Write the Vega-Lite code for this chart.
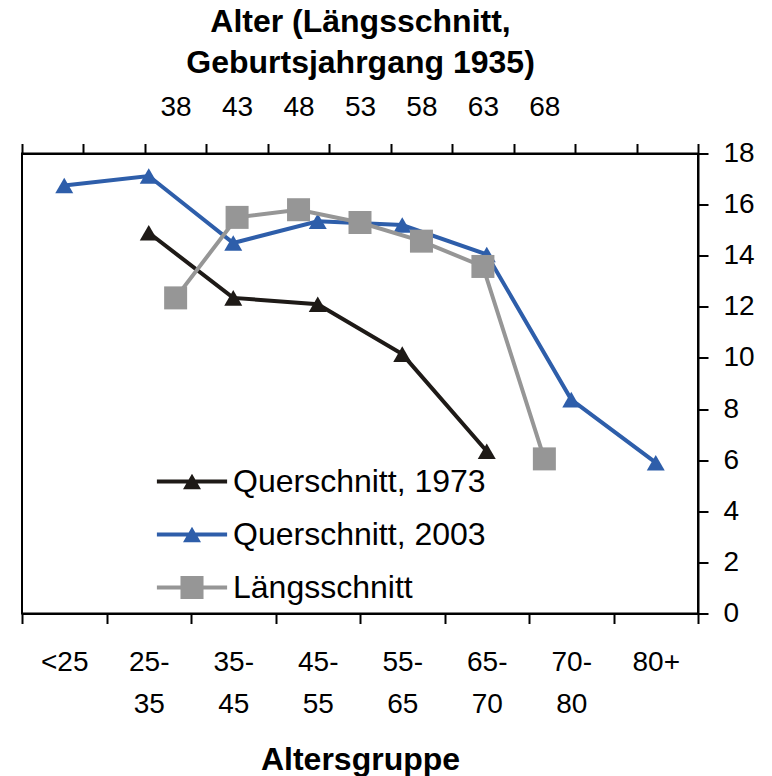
{
  "$schema": "https://vega.github.io/schema/vega-lite/v6.json",
  "width": 676,
  "height": 460,
  "autosize": {"type": "none"},
  "padding": {"left": 22, "top": 153.5, "right": 74, "bottom": 162.5},
  "background": "white",
  "config": {
    "font": "Liberation Sans",
    "view": {"stroke": "black", "strokeWidth": 2},
    "axis": {
      "domainColor": "black", "domainWidth": 2,
      "tickColor": "black", "tickWidth": 2, "tickSize": 10,
      "labelColor": "black", "labelFont": "Liberation Sans", "labelFontSize": 28,
      "titleFont": "Liberation Sans", "titleFontSize": 32, "titleFontWeight": "bold", "titleColor": "black",
      "grid": false
    }
  },
  "datasets": {
    "quer": [
      {"Serie": "Querschnitt, 1973", "Altersgruppe": "25-35", "Wert": 14.9},
      {"Serie": "Querschnitt, 1973", "Altersgruppe": "35-45", "Wert": 12.35},
      {"Serie": "Querschnitt, 1973", "Altersgruppe": "45-55", "Wert": 12.1},
      {"Serie": "Querschnitt, 1973", "Altersgruppe": "55-65", "Wert": 10.15},
      {"Serie": "Querschnitt, 1973", "Altersgruppe": "65-70", "Wert": 6.35},
      {"Serie": "Querschnitt, 2003", "Altersgruppe": "<25", "Wert": 16.75},
      {"Serie": "Querschnitt, 2003", "Altersgruppe": "25-35", "Wert": 17.12},
      {"Serie": "Querschnitt, 2003", "Altersgruppe": "35-45", "Wert": 14.5},
      {"Serie": "Querschnitt, 2003", "Altersgruppe": "45-55", "Wert": 15.35},
      {"Serie": "Querschnitt, 2003", "Altersgruppe": "55-65", "Wert": 15.2},
      {"Serie": "Querschnitt, 2003", "Altersgruppe": "65-70", "Wert": 14.05},
      {"Serie": "Querschnitt, 2003", "Altersgruppe": "70-80", "Wert": 8.37},
      {"Serie": "Querschnitt, 2003", "Altersgruppe": "80+", "Wert": 5.9}
    ],
    "laengs": [
      {"Serie": "Längsschnitt", "Alter": 38, "Wert": 12.35},
      {"Serie": "Längsschnitt", "Alter": 43, "Wert": 15.5},
      {"Serie": "Längsschnitt", "Alter": 48, "Wert": 15.8},
      {"Serie": "Längsschnitt", "Alter": 53, "Wert": 15.3},
      {"Serie": "Längsschnitt", "Alter": 58, "Wert": 14.57},
      {"Serie": "Längsschnitt", "Alter": 63, "Wert": 13.58},
      {"Serie": "Längsschnitt", "Alter": 68, "Wert": 6.05}
    ]
  },
  "encoding": {
    "y": {
      "field": "Wert", "type": "quantitative",
      "scale": {"domain": [0, 18], "nice": false, "zero": true},
      "axis": {"orient": "right", "title": null, "values": [0, 2, 4, 6, 8, 10, 12, 14, 16, 18], "format": "d", "labelPadding": 15}
    },
    "color": {
      "field": "Serie", "type": "nominal",
      "scale": {"domain": ["Querschnitt, 1973", "Querschnitt, 2003", "Längsschnitt"], "range": ["#1e1a17", "#2e5eaa", "#969696"]},
      "legend": {
        "title": null, "orient": "none", "legendX": 154, "legendY": 312,
        "padding": 0, "labelFont": "Liberation Sans", "labelFontSize": 32, "labelColor": "black",
        "labelLimit": 400, "symbolSize": 324, "labelOffset": 25, "rowPadding": 21,
        "symbolType": {"expr": "datum.value === 'Längsschnitt' ? 'M-3.9,-0.22H3.9V0.22H-3.9Z M-1.28,-1.28H1.28V1.28H-1.28Z' : 'M-3.9,-0.22H3.9V0.22H-3.9Z M-1,0.87L0,-0.87L1,0.87Z'"},
        "symbolStrokeWidth": 0,
        "symbolOpacity": 1
      }
    }
  },
  "layer": [
    {
      "data": {"name": "quer"},
      "encoding": {
        "x": {
          "field": "Altersgruppe", "type": "ordinal", "bandPosition": 0.5,
          "scale": {"type": "band", "domain": ["<25", "25-35", "35-45", "45-55", "55-65", "65-70", "70-80", "80+"], "paddingInner": 0, "paddingOuter": 0},
          "axis": {
            "orient": "bottom", "title": "Altersgruppe", "labelAngle": 0, "tickBand": "extent",
            "labelExpr": "length(datum.label) > 3 ? [slice(datum.label, 0, 3), slice(datum.label, 3)] : datum.label",
            "labelLineHeight": 42, "labelPadding": 25, "labelBaseline": "top", "labelAlign": "center", "titlePadding": 26
          }
        }
      },
      "layer": [
        {"mark": {"type": "line", "strokeWidth": 4}, "encoding": {"order": {"value": null}}},
        {"mark": {"type": "point", "shape": "triangle-up", "size": 324, "filled": true, "opacity": 1, "strokeWidth": 0}}
      ]
    },
    {
      "data": {"name": "laengs"},
      "encoding": {
        "x": {
          "field": "Alter", "type": "quantitative",
          "scale": {"domain": [25.5, 80.5], "nice": false, "zero": false},
          "axis": {
            "orient": "top", "title": ["Alter (Längsschnitt,", "Geburtsjahrgang 1935)"],
            "values": [25.5, 30.5, 35.5, 40.5, 45.5, 50.5, 55.5, 60.5, 65.5, 70.5, 75.5, 80.5],
            "labelExpr": "datum.value > 35 && datum.value < 66 ? format(datum.value + 2.5, 'd') : ''",
            "labelOffset": 30.7, "labelPadding": 22, "labelFlush": false, "labelOverlap": false,
            "titlePadding": 14, "titleLineHeight": 41
          }
        }
      },
      "layer": [
        {"mark": {"type": "line", "strokeWidth": 4}, "encoding": {"order": {"value": null}}},
        {"mark": {"type": "point", "shape": "square", "size": 529, "filled": true, "opacity": 1, "strokeWidth": 0}}
      ]
    }
  ],
  "resolve": {"scale": {"x": "independent"}}
}
